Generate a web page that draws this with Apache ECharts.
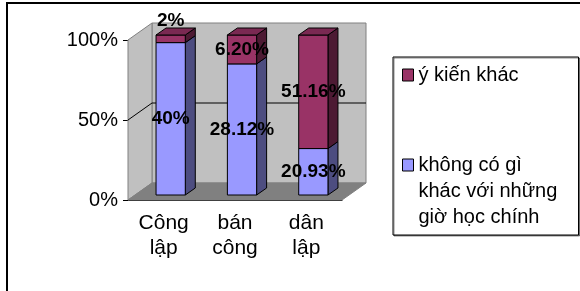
<!DOCTYPE html>
<html>
<head>
<meta charset="utf-8">
<script src="https://cdn.jsdelivr.net/npm/echarts@6/dist/echarts.min.js"></script>
<style>
  html, body { margin: 0; padding: 0; background: #fff; }
  #chart { width: 580px; height: 291px; }
</style>
</head>
<body>
<div id="chart"></div>
<script>
// du lieu doc tu hinh
var categories = ['Công\nlập', 'bán\ncông', 'dân\nlập'];
var seriesNames = ['không có gì khác với những giờ học chính', 'ý kiến khác'];
// 2 dong trong o dau de o vuong nam ngang dong dau tien
var legendLabels = ['\n\nkhông có gì\nkhác với những\ngiờ học chính', 'ý kiến khác'];
var noDifference = [40, 28.12, 20.93];
var otherOpinion = [2, 6.20, 51.16];
var yTicks = [0, 50, 100];

var colors = ['#9999ff', '#993366'];
var sideColors = ['#4d4d80', '#4d1a33'];
var topColors = ['#7a7acc', '#7a2952'];

// do sau 3D
var WALL_DX = 24, WALL_DY = -17;
var BAR_DX = 10, BAR_DY = -7;
var BAR_SHIFT_X = 7, BAR_SHIFT_Y = -5;
var BAR_RATIO = 0.41;

function fmtPct(v) {
  return (Number.isInteger(v) ? String(v) : v.toFixed(2)) + '%';
}

var totals = noDifference.map(function (v, i) { return v + otherOpinion[i]; });
var lowData = noDifference.map(function (v, i) {
  return [i, 0, v / totals[i] * 100, v];
});
var highData = otherOpinion.map(function (v, i) {
  return [i, noDifference[i] / totals[i] * 100, 100, v];
});

var chart = echarts.init(document.getElementById('chart'));

function wallItem(params, api) {
  var c = params.coordSys;
  var x0 = c.x, x1 = c.x + c.width, y0 = c.y, y1 = c.y + c.height;
  var mid = api.coord([0, 50])[1];
  var gray = '#808080';
  return {
    type: 'group',
    children: [
      { type: 'polygon', shape: { points: [[x0 + WALL_DX, y0 + WALL_DY], [x1 + WALL_DX, y0 + WALL_DY], [x1 + WALL_DX, y1 + WALL_DY], [x0 + WALL_DX, y1 + WALL_DY]] },
        style: { fill: '#c0c0c0', stroke: gray, lineWidth: 1 } },
      { type: 'polygon', shape: { points: [[x0, y0], [x0 + WALL_DX, y0 + WALL_DY], [x0 + WALL_DX, y1 + WALL_DY], [x0, y1]] },
        style: { fill: '#c0c0c0', stroke: gray, lineWidth: 1 } },
      { type: 'polygon', shape: { points: [[x0, y1], [x1, y1], [x1 + WALL_DX, y1 + WALL_DY], [x0 + WALL_DX, y1 + WALL_DY]] },
        style: { fill: '#808080', stroke: gray, lineWidth: 1 } },
      { type: 'polyline', shape: { points: [[x0, mid], [x0 + WALL_DX, mid + WALL_DY], [x1 + WALL_DX, mid + WALL_DY]] },
        style: { fill: null, stroke: '#000', lineWidth: 1 } }
    ]
  };
}

function barItem(s, isTop) {
  return function (params, api) {
    var i = api.value(0), lo = api.value(1), hi = api.value(2), raw = api.value(3);
    var p0 = api.coord([i, lo]), p1 = api.coord([i, hi]);
    var bw = api.size([1, 0])[0] * BAR_RATIO;
    var cx = p0[0] + BAR_SHIFT_X;
    var yb = p0[1] + BAR_SHIFT_Y, yt = p1[1] + BAR_SHIFT_Y;
    var xl = cx - bw / 2, xr = cx + bw / 2;
    var line = { stroke: '#000', lineWidth: 1 };
    var children = [
      { type: 'polygon', shape: { points: [[xr, yt], [xr + BAR_DX, yt + BAR_DY], [xr + BAR_DX, yb + BAR_DY], [xr, yb]] },
        style: Object.assign({ fill: sideColors[s] }, line) },
      { type: 'polygon', shape: { points: [[xl, yt], [xr, yt], [xr, yb], [xl, yb]] },
        style: Object.assign({ fill: colors[s] }, line) }
    ];
    if (isTop) {
      children.push({ type: 'polygon', shape: { points: [[xl, yt], [xl + BAR_DX, yt + BAR_DY], [xr + BAR_DX, yt + BAR_DY], [xr, yt]] },
        style: Object.assign({ fill: topColors[s] }, line) });
    }
    var ly = (yb - yt) < 12 ? yt - 14 : (yb + yt) / 2;
    children.push({ type: 'text', z2: 10,
      style: { text: fmtPct(raw), x: cx, y: ly, align: 'center', verticalAlign: 'middle',
        font: 'bold 19px "Liberation Sans", Arial, sans-serif', fill: '#000' } });
    return { type: 'group', children: children };
  };
}

chart.setOption({
  animation: false,
  backgroundColor: '#fff',
  textStyle: { fontFamily: '"Liberation Sans", Arial, sans-serif' },
  graphic: [{
    type: 'rect', silent: true,
    shape: { x: 7, y: 3, width: 640, height: 340 },
    style: { fill: null, stroke: '#000', lineWidth: 2 }
  }],
  grid: { left: 128, top: 40, width: 214, height: 160 },
  xAxis: {
    type: 'category',
    data: categories,
    axisLine: { lineStyle: { color: '#000', width: 1 } },
    axisTick: { length: 5, lineStyle: { color: '#000' } },
    axisLabel: { color: '#000', fontSize: 21, lineHeight: 25, margin: 11 }
  },
  yAxis: {
    type: 'value', min: yTicks[0], max: yTicks[yTicks.length - 1], interval: yTicks[1] - yTicks[0],
    axisLine: { show: true, lineStyle: { color: '#000', width: 1 } },
    axisTick: { show: true, length: 5, lineStyle: { color: '#000' } },
    splitLine: { show: false },
    axisLabel: { color: '#000', fontSize: 20, margin: 10, formatter: '{value}%' }
  },
  legend: {
    orient: 'vertical', left: 393, top: 57,
    padding: [5, 6, 5, 9], itemGap: 12,
    backgroundColor: '#fff', borderColor: '#000', borderWidth: 1,
    shadowColor: 'rgba(0,0,0,0.45)', shadowOffsetX: 1, shadowOffsetY: 1,
    icon: 'rect', itemWidth: 11, itemHeight: 12,
    itemStyle: { borderColor: '#000', borderWidth: 1 },
    textStyle: { color: '#000', fontSize: 20, lineHeight: 26, width: 154 },
    data: [seriesNames[1], seriesNames[0]],
    formatter: function (name) { return legendLabels[seriesNames.indexOf(name)]; }
  },
  series: [
    { type: 'custom', name: 'wall', silent: true, z: 1, data: [[0, 0]], renderItem: wallItem },
    { type: 'custom', name: seriesNames[0], z: 3, itemStyle: { color: colors[0] },
      encode: { x: 0, y: [1, 2] }, data: lowData, renderItem: barItem(0, false) },
    { type: 'custom', name: seriesNames[1], z: 4, itemStyle: { color: colors[1] },
      encode: { x: 0, y: [1, 2] }, data: highData, renderItem: barItem(1, true) }
  ]
});
</script>
</body>
</html>
